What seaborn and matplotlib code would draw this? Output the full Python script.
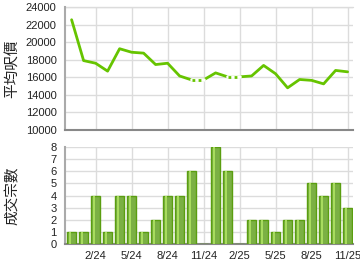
import numpy as np
import pandas as pd
import matplotlib
matplotlib.use("Agg")
import matplotlib.pyplot as plt
import seaborn as sns

months = ["12/23", "1/24", "2/24", "3/24", "4/24", "5/24", "6/24", "7/24", "8/24",
          "9/24", "10/24", "11/24", "12/24", "1/25", "2/25", "3/25", "4/25", "5/25",
          "6/25", "7/25", "8/25", "9/25", "10/25", "11/25"]
avg_price = [22550, 17900, 17600, 16700, 19250, 18850, 18750, 17450, 17600,
             16150, 15700, np.nan, 16500, 16050, np.nan, 16150, 17350, 16400,
             14800, 15750, 15650, 15250, 16780, 16620]
deals = [1, 1, 4, 1, 4, 4, 1, 2, 4, 4, 6, 0, 8, 6, 0, 2, 2, 1, 2, 2, 5, 4, 5, 3]
tick_labels = ["2/24", "5/24", "8/24", "11/24", "2/25", "5/25", "8/25", "11/25"]
price_ticks = [10000, 12000, 14000, 16000, 18000, 20000, 22000, 24000]
deal_ticks = [0, 1, 2, 3, 4, 5, 6, 7, 8]

sns.set_theme(style="white")
plt.rcParams['font.family'] = ['Liberation Sans', 'Noto Sans CJK TC', 'DejaVu Sans']

idx = np.arange(len(months))
price = pd.Series(avg_price)
filled = price.ffill()
df = pd.DataFrame({"i": idx, "price": filled.values, "deals": deals})

fig = plt.figure(figsize=(3.6, 2.7), dpi=100)
ax1 = fig.add_axes([65/360, 1-130/270, 288/360, 123/270])
ax2 = fig.add_axes([65/360, 1-244/270, 288/360, 97/270])

tick_pos = [months.index(t) for t in tick_labels]
green = "#66c400"
cjk = ['Noto Sans CJK TC', 'DejaVu Sans']

for ax in (ax1, ax2):
    ax.set_facecolor("white")
    ax.set_xlim(-0.55, 23.45)
    ax.set_xticks(tick_pos)
    ax.grid(True, color="#dcdcdc", linewidth=1)
    ax.set_axisbelow(True)
    for s in ["top", "right"]:
        ax.spines[s].set_visible(False)
    ax.spines["left"].set_color("#aaaaaa")
    ax.spines["left"].set_linewidth(1.5)
    ax.spines["bottom"].set_color("#888888")
    ax.spines["bottom"].set_linewidth(1.5)

# Top line chart
sns.lineplot(data=df, x="i", y="price", ax=ax1, color=green, linewidth=2, zorder=3)
for i in idx:
    if np.isnan(avg_price[i]):
        ax1.plot([i-1, i], [filled[i-1], filled[i]], color="white", linewidth=2.6, zorder=4)
        ax1.plot([i-1, i], [filled[i-1], filled[i]], color=green, linewidth=2,
                 linestyle=(0, (1, 1.2)), zorder=5)
ax1.set_xlim(-0.55, 23.45)
ax1.set_ylim(10000, 24000)
ax1.set_yticks(price_ticks)
ax1.set_xticklabels([])
ax1.tick_params(axis="x", length=0)
ax1.tick_params(axis="y", length=0, labelsize=8, pad=6, colors="#222222")
ax1.set_xlabel("")
ax1.set_ylabel("平均呎價", fontsize=10.5, labelpad=5, color="#222222", family=cjk)
ax1.axhline(24000, color="#dcdcdc", linewidth=1, zorder=1, clip_on=False)

# Bottom bar chart
sns.barplot(data=df, x="i", y="deals", ax=ax2, color="#7cc232", width=0.72,
            edgecolor="#5a9e10", linewidth=1, native_scale=True, zorder=3)
for p in list(ax2.patches):
    x0 = p.get_x(); w = p.get_width(); h = p.get_height()
    if h > 0:
        ax2.bar(x0 + w*0.2, h, width=w*0.22, bottom=0, color="#a8dc5e",
                align="edge", zorder=4, linewidth=0)
ax2.set_xlim(-0.55, 23.45)
ax2.set_ylim(0, 8)
ax2.set_yticks(deal_ticks)
ax2.set_xticks(tick_pos)
ax2.set_xticklabels(tick_labels)
ax2.tick_params(axis="x", length=4, width=1, color="#888888", labelsize=8, pad=1,
                labelcolor="#222222")
ax2.tick_params(axis="y", length=0, labelsize=8, pad=6, colors="#222222")
ax2.set_xlabel("")
ax2.set_ylabel("成交宗數", fontsize=10.5, labelpad=22, color="#222222", family=cjk)

fig.savefig("out.png", dpi=100)
